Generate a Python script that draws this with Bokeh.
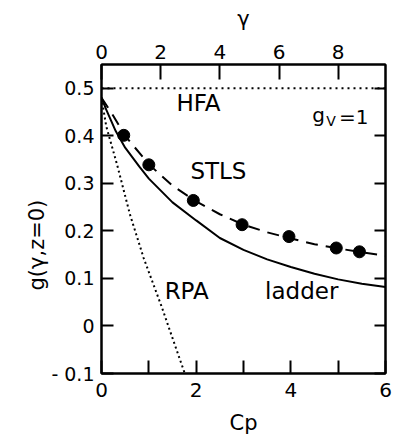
from bokeh.plotting import figure
from bokeh.models import Range1d, LinearAxis, FixedTicker, Label, Title
from bokeh.embed import file_html
from bokeh.resources import INLINE

# ---- data ----
ladder_cp = [0.0, 0.1, 0.3, 0.5, 0.8, 1.0, 1.5, 2.0, 2.5, 3.0, 3.5, 4.0, 4.5, 5.0, 5.5, 6.0]
ladder_g = [0.48, 0.455, 0.41, 0.375, 0.335, 0.31, 0.26, 0.222, 0.185, 0.16, 0.14, 0.124, 0.11, 0.098, 0.089, 0.082]

stls_cp = [0.0, 0.2, 0.5, 1.0, 1.5, 2.0, 2.5, 3.0, 3.5, 4.0, 4.5, 5.0, 5.5, 6.0]
stls_g = [0.48, 0.45, 0.40, 0.34, 0.295, 0.262, 0.235, 0.213, 0.197, 0.184, 0.172, 0.163, 0.155, 0.148]

rpa_cp = [0.0, 0.1, 0.33, 0.6, 0.89, 1.28, 1.55, 1.76]
rpa_g = [0.48, 0.42, 0.339, 0.235, 0.143, 0.038, -0.04, -0.1]

hfa_cp = [0.0, 6.0]
hfa_g = [0.5, 0.5]

dots_cp = [0.47, 1.0, 1.94, 2.97, 3.96, 4.96, 5.45]
dots_g = [0.401, 0.339, 0.264, 0.213, 0.188, 0.164, 0.156]

x_major = [0, 2, 4, 6]
x_minor = [1, 3, 5]
y_ticks = [-0.1, 0.0, 0.1, 0.2, 0.3, 0.4, 0.5]
y_labels = {-0.1: "- 0.1", 0.0: "0", 0.1: "0.1", 0.2: "0.2", 0.3: "0.3", 0.4: "0.4", 0.5: "0.5"}
gamma_ticks = [0, 2, 4, 6, 8]
gamma_max = 9.6

FONT = "DejaVu Sans"

p = figure(frame_width=284, frame_height=309,
           x_range=Range1d(0, 6), y_range=Range1d(-0.1, 0.55),
           output_backend="svg", toolbar_location=None,
           min_border_left=101, min_border_top=64, min_border_bottom=70, min_border_right=11)
p.extra_x_ranges = {"gamma": Range1d(0, gamma_max)}
p.grid.visible = False
p.outline_line_color = "black"
p.outline_line_width = 2
p.background_fill_color = "white"
p.border_fill_color = "white"

def style(ax, size="19px", tick_in=12):
    ax.major_tick_in = tick_in
    ax.major_tick_out = 0
    ax.minor_tick_in = tick_in
    ax.minor_tick_out = 0
    ax.axis_line_color = "black"
    ax.axis_line_width = 2
    ax.major_tick_line_color = "black"
    ax.major_tick_line_width = 2
    ax.minor_tick_line_color = "black"
    ax.minor_tick_line_width = 2
    ax.major_label_text_font = FONT
    ax.major_label_text_font_size = size
    ax.major_label_text_color = "black"
    ax.axis_label_text_font = FONT
    ax.axis_label_text_font_style = "normal"
    ax.axis_label_text_color = "black"

xa = p.xaxis[0]
xa.ticker = FixedTicker(ticks=x_major, minor_ticks=x_minor)
style(xa, "20px", 13)
xa.major_label_standoff = 9
xa.axis_label = "Cp"
xa.axis_label_text_font_size = "21px"
xa.axis_label_standoff = 11

ya = p.yaxis[0]
ya.ticker = FixedTicker(ticks=y_ticks)
ya.major_label_overrides = y_labels
style(ya, "19px", 12)
ya.major_label_standoff = 7

top = LinearAxis(x_range_name="gamma", ticker=FixedTicker(ticks=gamma_ticks))
style(top, "20px", 15)
top.major_label_standoff = 6
top.axis_label = "γ"
top.axis_label_text_font_size = "21px"
top.axis_label_standoff = 11
p.add_layout(top, "above")

right = LinearAxis(ticker=FixedTicker(ticks=[], minor_ticks=y_ticks))
style(right, "19px", 11)
p.add_layout(right, "right")

# y-axis title, placed along the left side
p.add_layout(Title(text="g(γ,z=0)", text_font=FONT, text_font_size="21px",
                   text_font_style="normal", text_color="black",
                   align="left", offset=83, standoff=0), "left")

# curves
p.line(hfa_cp, hfa_g, line_color="black", line_width=2, line_dash="2 4")
p.line(rpa_cp, rpa_g, line_color="black", line_width=2, line_dash="2 3")
p.line(ladder_cp, ladder_g, line_color="black", line_width=2)
p.line(stls_cp, stls_g, line_color="black", line_width=2, line_dash="12 8")
p.scatter(dots_cp, dots_g, size=12, color="black")

def txt(x, y, s, size="23px", align="center", baseline="middle"):
    p.add_layout(Label(x=x, y=y, text=s, text_font=FONT, text_font_size=size,
                       text_align=align, text_baseline=baseline, text_color="black"))

txt(2.05, 0.469, "HFA")
txt(2.47, 0.326, "STLS")
txt(1.80, 0.073, "RPA")
txt(4.23, 0.074, "ladder")
# g_V = 1
txt(4.45, 0.443, "g", size="20px", align="left", baseline="alphabetic")
txt(4.75, 0.431, "V", size="14px", align="left", baseline="alphabetic")
txt(5.02, 0.439, "=1", size="20px", align="left", baseline="alphabetic")

open("out.html", "w").write(file_html(p, INLINE))
